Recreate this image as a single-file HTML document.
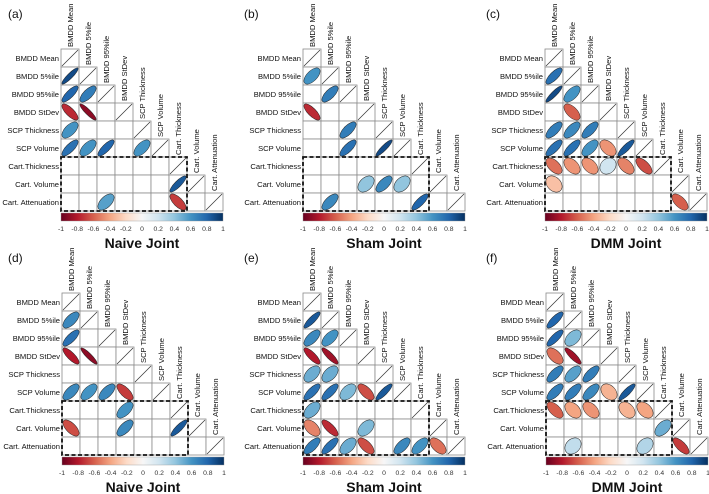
<!DOCTYPE html>
<html><head><meta charset="utf-8">
<style>
html,body{margin:0;padding:0;background:#fff;}
svg{display:block;font-family:"Liberation Sans",Arial,sans-serif;}
</style></head>
<body>
<svg id="fig" width="709" height="494" viewBox="0 0 709 494">
<defs>
<linearGradient id="rdbu" x1="0" x2="1" y1="0" y2="0">
<stop offset="0" stop-color="#67001F"/><stop offset="0.1" stop-color="#B2182B"/>
<stop offset="0.2" stop-color="#D6604D"/><stop offset="0.3" stop-color="#F4A582"/>
<stop offset="0.4" stop-color="#FDDBC7"/><stop offset="0.5" stop-color="#F7F7F7"/>
<stop offset="0.6" stop-color="#D1E5F0"/><stop offset="0.7" stop-color="#92C5DE"/>
<stop offset="0.8" stop-color="#4393C3"/><stop offset="0.9" stop-color="#2166AC"/>
<stop offset="1" stop-color="#053061"/>
</linearGradient>
</defs>
</svg>
<script>
const variables = ["BMDD Mean","BMDD 5%ile","BMDD 95%ile","BMDD StDev","SCP Thickness","SCP Volume","Cart.Thickness","Cart. Volume","Cart. Attenuation"];
const colLabels = ["BMDD Mean","BMDD 5%ile","BMDD 95%ile","BMDD StDev","SCP Thickness","SCP Volume","Cart. Thickness","Cart. Volume","Cart. Attenuation"];
const colorTicks = [-1,-0.8,-0.6,-0.4,-0.2,0,0.2,0.4,0.6,0.8,1];
const panelLetters = ["(a)","(b)","(c)","(d)","(e)","(f)"];
const panelTitles = ["Naive Joint","Sham Joint","DMM Joint","Naive Joint","Sham Joint","DMM Joint"];
// [row, col, r]
const corrA = [[1,0,0.9],[2,0,0.8],[2,1,0.7],[3,0,-0.75],[3,1,-0.9],[4,0,0.6],[5,0,0.75],[5,1,0.6],[5,2,0.8],[5,4,0.6],[7,6,0.85],[8,2,0.55],[8,6,-0.7]];
const corrB = [[1,0,0.6],[2,1,0.7],[3,0,-0.75],[4,2,0.7],[5,2,0.75],[5,4,0.9],[7,3,0.4],[7,4,0.65],[7,5,0.4],[8,1,0.65],[8,6,0.8]];
const corrC = [[1,0,0.75],[2,0,0.9],[2,1,0.6],[3,1,-0.6],[4,0,0.7],[4,1,0.65],[4,2,0.7],[5,0,0.75],[5,1,0.75],[5,2,0.6],[5,3,-0.45],[5,4,0.85],[6,0,-0.55],[6,1,-0.45],[6,2,-0.45],[6,3,0.2],[6,4,-0.5],[6,5,-0.65],[7,0,-0.3],[8,7,-0.6]];
const corrD = [[1,0,0.65],[2,0,0.75],[3,0,-0.8],[3,1,-0.9],[5,0,0.65],[5,1,0.6],[5,2,0.65],[5,3,-0.7],[6,3,0.6],[7,0,-0.65],[7,3,0.65],[7,6,0.85]];
const corrE = [[1,0,0.85],[2,0,0.65],[2,1,0.6],[3,0,-0.8],[3,1,-0.85],[4,0,0.5],[4,1,0.5],[5,0,0.75],[5,1,0.75],[5,2,0.45],[5,3,-0.65],[5,4,0.85],[6,0,0.5],[7,0,-0.5],[7,1,-0.75],[7,3,0.45],[8,0,0.7],[8,1,0.75],[8,2,0.5],[8,3,-0.65],[8,5,0.65],[8,6,0.6],[8,7,-0.55]];
const corrF = [[1,0,0.8],[2,0,0.8],[2,1,0.45],[3,0,-0.55],[3,1,-0.85],[4,0,0.7],[4,1,0.55],[4,2,0.7],[5,0,0.7],[5,1,0.7],[5,2,0.65],[5,3,-0.35],[5,4,0.85],[6,0,-0.6],[6,1,-0.4],[6,2,-0.45],[6,4,-0.35],[6,5,-0.4],[7,6,0.5],[8,1,0.25],[8,5,0.3],[8,7,-0.7]];
const panelData = [corrA,corrB,corrC,corrD,corrE,corrF];

const NS="http://www.w3.org/2000/svg";
const svg=document.getElementById('fig');
const C=18;
const origins=[[61,49],[303,49],[545,49],[62,293],[303,293],[546,293]];
const letterPos=[[8,18],[244,18],[486,18],[8,262],[244,262],[486,262]];
const pal=["#67001F","#B2182B","#D6604D","#F4A582","#FDDBC7","#F7F7F7","#D1E5F0","#92C5DE","#4393C3","#2166AC","#053061"];
function hex(h){return [1,3,5].map(i=>parseInt(h.substr(i,2),16));}
function color(r){const t=(r+1)/2*10;const i=Math.min(9,Math.floor(t));const f=t-i;const a=hex(pal[i]),b=hex(pal[i+1]);
return "rgb("+a.map((v,k)=>Math.round(v+(b[k]-v)*f)).join(",")+")";}
function mk(tag,attrs,parent){const e=document.createElementNS(NS,tag);for(const k in attrs)e.setAttribute(k,attrs[k]);(parent||svg).appendChild(e);return e;}

panelData.forEach((data,p)=>{
  const [ox,oy]=origins[p];
  const g=mk('g',{});
  
  
  const xs=j=>ox+j*C, ys=i=>oy+i*C;
  const lt=mk('text',{x:letterPos[p][0],y:letterPos[p][1],'font-size':12,fill:'#111'},g);lt.textContent=panelLetters[p];
  
  
  for(let i=0;i<9;i++){for(let j=0;j<=i;j++){
    const c=mk('rect',{x:xs(j),y:ys(i),width:C,height:C,fill:'#fff',stroke:'#8a8a8a','stroke-width':0.8},g);
    
    
    if(i===j){const l=mk('line',{x1:xs(j)+1,y1:ys(i)+C-1,x2:xs(j)+C-1,y2:ys(i)+1,stroke:'#333','stroke-width':0.7},g);
      
      }
  }
  const rl=mk('text',{x:ox-2,y:ys(i)+C/2+3,'font-size':7.6,'text-anchor':'end',fill:'#111'},g);rl.textContent=variables[i];
  
  
  const cx=xs(i)+C/2+3, cy=ys(i)-2;
  const cl=mk('text',{x:cx,y:cy,'font-size':7.6,fill:'#111',transform:`rotate(-90 ${cx} ${cy})`},g);cl.textContent=colLabels[i];
  
  
  }
  const R=8.1;
  data.forEach(([i,j,r])=>{
    const a=R*Math.sqrt(1+Math.abs(r)), b=R*Math.sqrt(1-Math.abs(r));
    const cx=xs(j)+C/2, cy=ys(i)+C/2;
    const e=mk('ellipse',{cx:cx,cy:cy,rx:a,ry:b,fill:color(r),stroke:'#222','stroke-width':0.5,transform:`rotate(${r>0?-45:45} ${cx} ${cy})`},g);
    
    
  });
  const db=mk('rect',{x:ox,y:ys(6),width:7*C,height:3*C,fill:'none',stroke:'#111','stroke-width':1.8,'stroke-dasharray':'4 2.5'},g);
  
  
  const by=oy+9*C+2, W=9*C;
  const cb=mk('rect',{x:ox,y:by,width:W,height:8,fill:'url(#rdbu)',stroke:'#999','stroke-width':0.4},g);
  
  
  colorTicks.forEach(t=>{
    const tx=ox+(t+1)/2*W;
    const tk=mk('text',{x:tx,y:by+18,'font-size':6.8,'text-anchor':'middle',fill:'#333'},g);tk.textContent=String(t);
    
    
  });
  const tt=mk('text',{x:ox+W/2,y:oy+199,'font-size':14,'font-weight':'bold','text-anchor':'middle',fill:'#111'},g);tt.textContent=panelTitles[p];
  
  
});
</script>
</body></html>
